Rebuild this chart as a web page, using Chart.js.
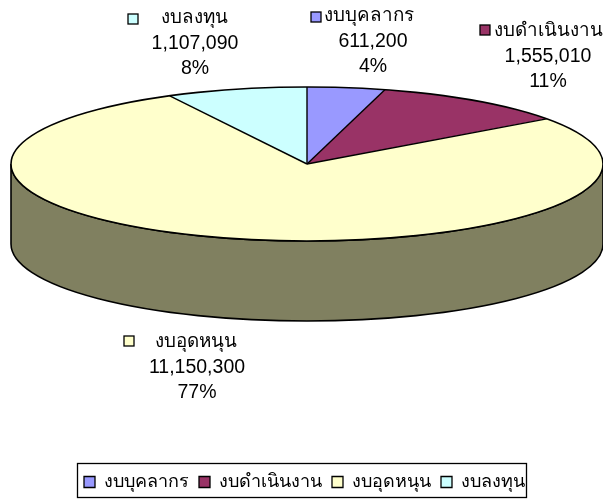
<!DOCTYPE html>
<html><head><meta charset="utf-8">
<style>html,body{margin:0;padding:0;background:#fff}canvas{display:block}</style>
<script src="https://cdn.jsdelivr.net/npm/chart.js@4"></script></head>
<body><div style="width:603px;height:501px"><canvas id="c" width="603" height="501"></canvas></div>
<script>
const categories = ["งบบุคลากร","งบดำเนินงาน","งบอุดหนุน","งบลงทุน"];
const values = [611200,1555010,11150300,1107090];
const percents = ["4%","11%","77%","8%"];
const colors = ["#9999FF","#993366","#FFFFCC","#CCFFFF"];
const depthColor = "#808060";
const FONT = '"Liberation Sans", "Noto Sans", sans-serif';
const THAI = '"Noto Sans", "Liberation Sans", sans-serif';
const geo = {cx:307,cy:164,rx:296,ry:77,depth:80};
const labelPos = [
 {x:373,tx:369,y:16,sx:316,sy:17},
 {x:548,tx:548,y:31,sx:485,sy:30},
 {x:197,tx:196,y:342,sx:129,sy:341},
 {x:195,tx:194,y:18,sx:133,sy:19}
];
const fmt = v => v.toLocaleString('en-US');
const squash = {
 id:'squash',
 beforeDatasetsDraw(chart){
  const a = chart.getDatasetMeta(0).data[0];
  const ctx = chart.ctx, k = geo.ry/geo.rx;
  ctx.save();
  ctx.fillStyle = depthColor; ctx.strokeStyle = '#000'; ctx.lineWidth = 1.6;
  ctx.beginPath();
  ctx.ellipse(geo.cx,geo.cy,geo.rx,geo.ry,0,0,Math.PI);
  ctx.lineTo(geo.cx-geo.rx,geo.cy+geo.depth);
  ctx.ellipse(geo.cx,geo.cy+geo.depth,geo.rx,geo.ry,0,Math.PI,0,true);
  ctx.closePath(); ctx.fill(); ctx.stroke();
  ctx.restore();
  ctx.save();
  ctx.translate(geo.cx,geo.cy); ctx.scale(1,k); ctx.translate(-a.x,-a.y);
  const sx = geo.rx/a.outerRadius; ctx.translate(a.x,a.y); ctx.scale(sx,sx); ctx.translate(-a.x,-a.y);
 },
 afterDatasetsDraw(chart){
  chart.ctx.restore();
  const ctx = chart.ctx;
  ctx.save();
  ctx.strokeStyle='#000'; ctx.lineWidth=1.6;
  ctx.beginPath(); ctx.ellipse(geo.cx,geo.cy,geo.rx,geo.ry,0,0,Math.PI*2); ctx.stroke();
  ctx.lineWidth=1.4;
  chart.getDatasetMeta(0).data.forEach(el=>{
   ctx.beginPath(); ctx.moveTo(geo.cx,geo.cy);
   ctx.lineTo(geo.cx+geo.rx*Math.cos(el.startAngle),geo.cy+geo.ry*Math.sin(el.startAngle)); ctx.stroke();
  });
  categories.forEach((n,i)=>{
   const p = labelPos[i];
   ctx.fillStyle = colors[i]; ctx.strokeStyle='#000'; ctx.lineWidth=1.3;
   ctx.fillRect(p.sx-5,p.sy-5,10,10); ctx.strokeRect(p.sx-5,p.sy-5,10,10);
   ctx.fillStyle='#000'; ctx.textAlign='center'; ctx.textBaseline='middle';
   ctx.font='18.8px '+THAI; ctx.fillText(n,p.tx,p.y);
   ctx.font='19.5px '+FONT; ctx.fillText(fmt(values[i]),p.x,p.y+26); ctx.fillText(percents[i],p.x,p.y+51);
  });
  ctx.restore();
 },
 beforeDraw(chart){
  const ctx=chart.ctx; ctx.save(); ctx.strokeStyle='#000'; ctx.lineWidth=1.3;
  ctx.strokeRect(77.5,463.5,449,34); ctx.restore();
 }
};
new Chart(document.getElementById('c'),{
 type:'pie',
 data:{labels:categories,datasets:[{data:values,backgroundColor:colors,borderWidth:0}]},
 options:{responsive:false,animation:false,
  layout:{padding:{top:0,bottom:0,left:6,right:0}},
  plugins:{tooltip:{enabled:false},
   legend:{position:'bottom',labels:{color:'#000',font:{family:THAI,size:18},boxWidth:11,boxHeight:11,padding:10,
    generateLabels(chart){
     return categories.map((t,i)=>({text:t,fillStyle:colors[i],strokeStyle:'#000',lineWidth:1.3,hidden:false,index:i,fontColor:'#000'}));
    }}}}
 },
 plugins:[squash]
});
</script></body></html>
